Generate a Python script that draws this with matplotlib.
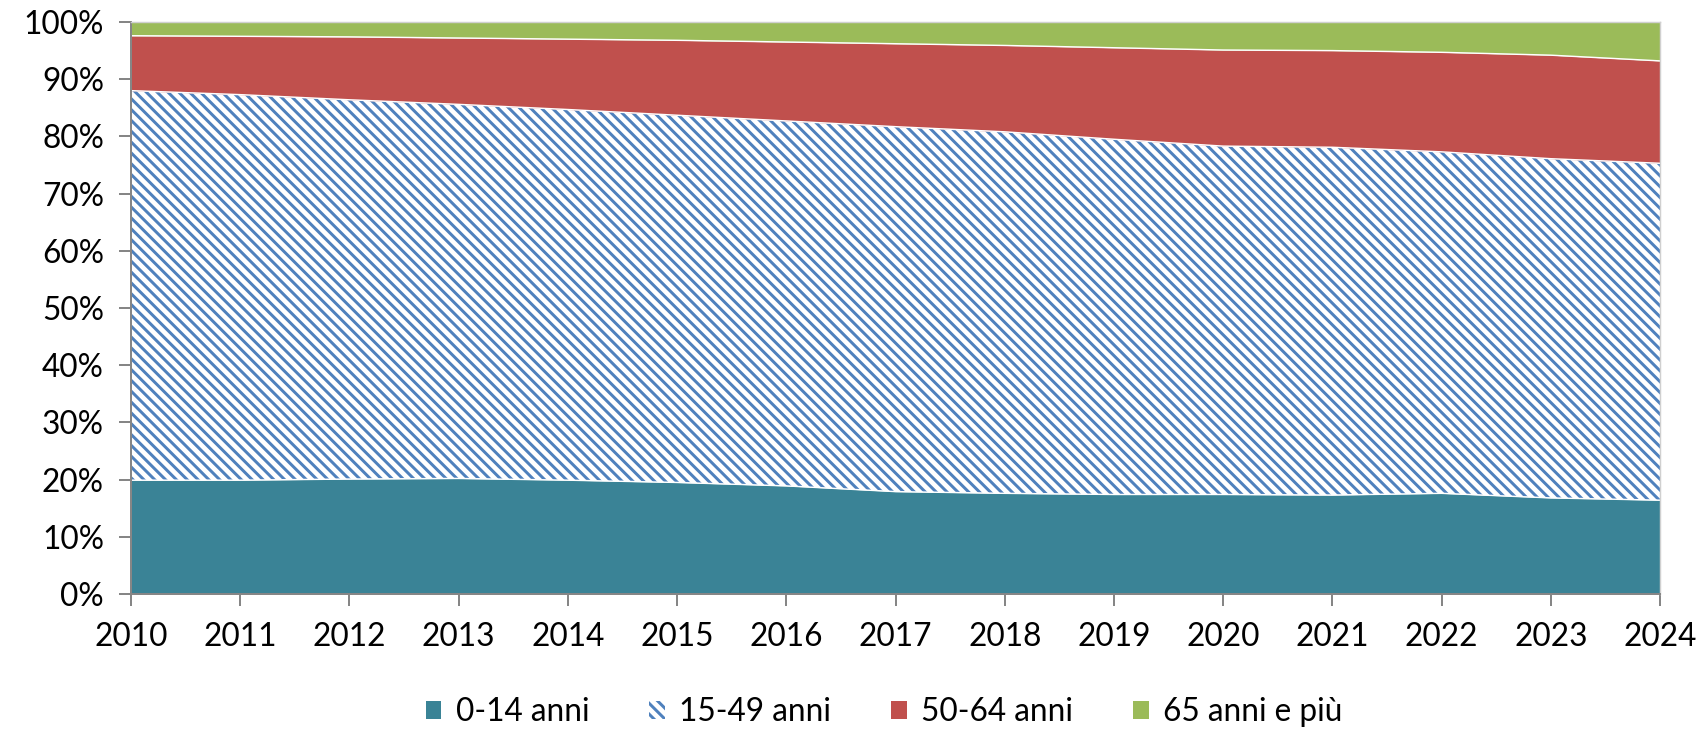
import numpy as np
import matplotlib.pyplot as plt
from matplotlib.patches import Patch
from matplotlib.ticker import PercentFormatter

plt.rcParams['font.family'] = ['Lato', 'DejaVu Sans']
plt.rcParams['hatch.linewidth'] = 3.3

years = np.arange(2010, 2025)
# cumulative shares
cum_0_14 = [19.9, 19.9, 20.1, 20.2, 19.9, 19.5, 18.9, 17.9, 17.6, 17.4, 17.4, 17.3, 17.6, 16.8, 16.4]
cum_0_49 = [88.0, 87.3, 86.4, 85.6, 84.7, 83.7, 82.7, 81.7, 80.8, 79.5, 78.3, 78.1, 77.3, 76.1, 75.3]
cum_0_64 = [97.6, 97.5, 97.4, 97.2, 97.0, 96.8, 96.5, 96.2, 95.9, 95.5, 95.1, 95.0, 94.7, 94.2, 93.2]

a = np.array(cum_0_14) / 100
b = np.array(cum_0_49) / 100
c = np.array(cum_0_64) / 100
top = np.ones(len(years))

teal = '#3A8396'
blue = '#4F81BD'
red = '#C0504D'
green = '#9BBB59'

dpi = 65
fig = plt.figure(figsize=(1703 / dpi, 729 / dpi), dpi=dpi)
ax = fig.add_axes([131 / 1703, 1 - 594 / 729, (1660 - 131) / 1703, (594 - 22) / 729])

ax.fill_between(years, 0, a, color=teal, lw=0)
ax.fill_between(years, a, b, facecolor='white', edgecolor=blue, hatch='\\\\', lw=0)
ax.fill_between(years, b, c, color=red, lw=0)
ax.fill_between(years, c, top, color=green, lw=0)
for line in (a, b, c):
    ax.plot(years, line, color='white', lw=1.6)

ax.set_xlim(2010, 2024)
ax.set_ylim(0, 1)
ax.set_xticks(years)
ax.set_yticks(np.arange(0, 1.01, 0.1))
ax.yaxis.set_major_formatter(PercentFormatter(1.0, decimals=0))

for s in ('left', 'bottom'):
    ax.spines[s].set_color('#868686')
    ax.spines[s].set_linewidth(2.2)
for s in ('top', 'right'):
    ax.spines[s].set_color('#D0D0D0')
    ax.spines[s].set_linewidth(1.6)

ax.tick_params(axis='both', color='#868686', width=2.2, length=13, labelsize=35)
ax.tick_params(axis='y', pad=17)
ax.tick_params(axis='x', pad=18)

handles = [
    Patch(facecolor=teal, edgecolor='none', label='0-14 anni'),
    Patch(facecolor='white', edgecolor=blue, hatch='\\\\', lw=0, label='15-49 anni'),
    Patch(facecolor=red, edgecolor='none', label='50-64 anni'),
    Patch(facecolor=green, edgecolor='none', label='65 anni e più'),
]
fig.legend(handles=handles, loc='center', bbox_to_anchor=(884 / 1703, 1 - 712 / 729),
           ncol=4, frameon=False, fontsize=35, handlelength=0.5, handleheight=0.5,
           handletextpad=0.45, columnspacing=1.9)

fig.savefig('out.png', dpi=dpi)
